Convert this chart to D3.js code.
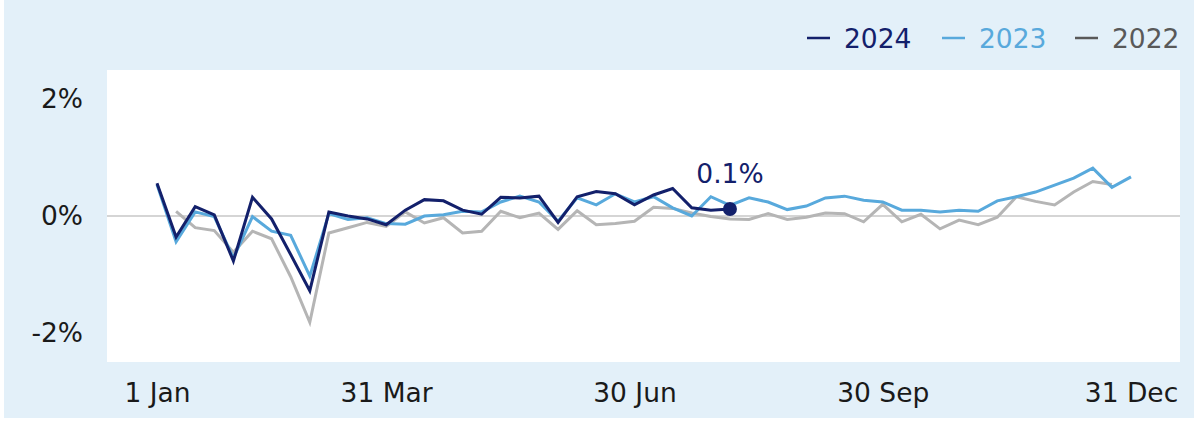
<!DOCTYPE html>
<html>
<head>
<meta charset="utf-8">
<script src="https://cdn.jsdelivr.net/npm/d3@7"></script>
<style>
  html, body { margin: 0; padding: 0; background: #fff; }
  svg { display: block; font-family: "DejaVu Sans", Verdana, sans-serif; }
</style>
</head>
<body>
<svg id="chart" width="1198" height="421"></svg>
<script>
// weekly % change, one value per week (index 0..51)
const weeks = d3.range(52);
const tickWeeks = [0, 12, 25, 38, 51];
const tickLabels = ['1 Jan', '31 Mar', '30 Jun', '30 Sep', '31 Dec'];
const yTicks = [-2, 0, 2];

const s2024 = [0.56, -0.36, 0.16, 0.02, -0.77, 0.32, -0.05, -0.66, -1.28, 0.07,
  0.00, -0.05, -0.15, 0.10, 0.28, 0.26, 0.10, 0.03, 0.32, 0.31,
  0.34, -0.11, 0.33, 0.42, 0.38, 0.19, 0.36, 0.47, 0.14, 0.10, 0.12];

const s2023 = [0.54, -0.44, 0.07, -0.01, -0.72, -0.01, -0.26, -0.33, -1.03, 0.04,
  -0.06, -0.03, -0.13, -0.14, 0.00, 0.02, 0.08, 0.07, 0.24, 0.34,
  0.24, -0.09, 0.31, 0.19, 0.38, 0.24, 0.33, 0.14, 0.00, 0.33,
  0.18, 0.31, 0.24, 0.11, 0.17, 0.31, 0.34, 0.27, 0.24, 0.10,
  0.10, 0.07, 0.10, 0.08, 0.26, 0.33, 0.41, 0.53, 0.65, 0.82,
  0.49, 0.67];

const s2022 = [null, 0.08, -0.20, -0.25, -0.62, -0.26, -0.39, -1.04, -1.82, -0.29,
  -0.20, -0.11, -0.18, 0.07, -0.12, -0.03, -0.29, -0.26, 0.08, -0.03,
  0.05, -0.23, 0.09, -0.15, -0.13, -0.09, 0.15, 0.13, 0.05, -0.01,
  -0.05, -0.06, 0.04, -0.06, -0.02, 0.05, 0.04, -0.10, 0.20, -0.10,
  0.03, -0.22, -0.07, -0.15, -0.02, 0.33, 0.25, 0.19, 0.41, 0.59,
  0.54, null];

const seriesNames = ['2024', '2023', '2022'];
const lineColors = ['#13206b', '#58a9dc', '#b5b5b5'];
const legendColors = ['#13206b', '#58a9dc', '#595959'];

const FS = 26.5;
const svg = d3.select('#chart');

// outer panel + plot area
svg.append('rect').attr('x', 4).attr('y', 0).attr('width', 1190).attr('height', 418)
  .attr('fill', '#e3f0f9');
const plot = { left: 107, right: 1180, top: 70, bottom: 362 };
svg.append('rect')
  .attr('x', plot.left).attr('y', plot.top)
  .attr('width', plot.right - plot.left).attr('height', plot.bottom - plot.top)
  .attr('fill', '#fff');

const x = d3.scaleLinear().domain([0, 51]).range([157, 1131]);
const y = d3.scaleLinear().domain([-2.5, 2.5]).range([plot.bottom, plot.top]);

// zero line
svg.append('line')
  .attr('x1', plot.left).attr('x2', plot.right)
  .attr('y1', y(0)).attr('y2', y(0))
  .attr('stroke', '#ababab').attr('stroke-width', 1);

// y axis labels
const yAxis = svg.append('g')
  .attr('transform', `translate(${plot.left - 24},0)`)
  .call(d3.axisLeft(y).tickValues(yTicks).tickFormat(d => d + '%').tickSize(0).tickPadding(0));
yAxis.select('.domain').remove();
yAxis.selectAll('text')
  .attr('font-family', '"DejaVu Sans", Verdana, sans-serif')
  .attr('font-size', FS).attr('fill', '#1a1a1a');

// x axis labels
const xAxis = svg.append('g')
  .attr('transform', `translate(0,${plot.bottom})`)
  .call(d3.axisBottom(x).tickValues(tickWeeks).tickFormat((d, i) => tickLabels[i]).tickSize(0).tickPadding(21));
xAxis.select('.domain').remove();
xAxis.selectAll('text')
  .attr('font-family', '"DejaVu Sans", Verdana, sans-serif')
  .attr('font-size', FS).attr('fill', '#1a1a1a');

// lines, oldest drawn first
const line = d3.line()
  .defined(d => d[1] != null)
  .x(d => x(d[0]))
  .y(d => y(d[1]));

const allSeries = [s2024, s2023, s2022];
[2, 1, 0].forEach(k => {
  const pts = allSeries[k].map((v, i) => [weeks[i], v]);
  svg.append('path')
    .datum(pts)
    .attr('d', line)
    .attr('fill', 'none')
    .attr('stroke', lineColors[k])
    .attr('stroke-width', 3)
    .attr('stroke-linejoin', 'miter');
});

// latest point marker
const lastIdx = s2024.length - 1;
const lastVal = s2024[lastIdx];
svg.append('circle')
  .attr('cx', x(weeks[lastIdx])).attr('cy', y(lastVal))
  .attr('r', 7).attr('fill', '#13206b');
svg.append('text')
  .attr('x', x(weeks[lastIdx])).attr('y', y(lastVal) - 26)
  .attr('text-anchor', 'middle')
  .attr('font-size', FS).attr('fill', '#13206b')
  .text(d3.format('.1f')(lastVal) + '%');

// legend
const legendX = [807, 942, 1075];
seriesNames.forEach((name, k) => {
  const g = svg.append('g').attr('transform', `translate(${legendX[k]},38)`);
  g.append('line').attr('x1', 0).attr('x2', 23).attr('y1', 0).attr('y2', 0)
    .attr('stroke', legendColors[k]).attr('stroke-width', 2.5);
  g.append('text').attr('x', 37).attr('y', 10)
    .attr('font-size', FS).attr('fill', legendColors[k])
    .text(name);
});
</script>
</body>
</html>
